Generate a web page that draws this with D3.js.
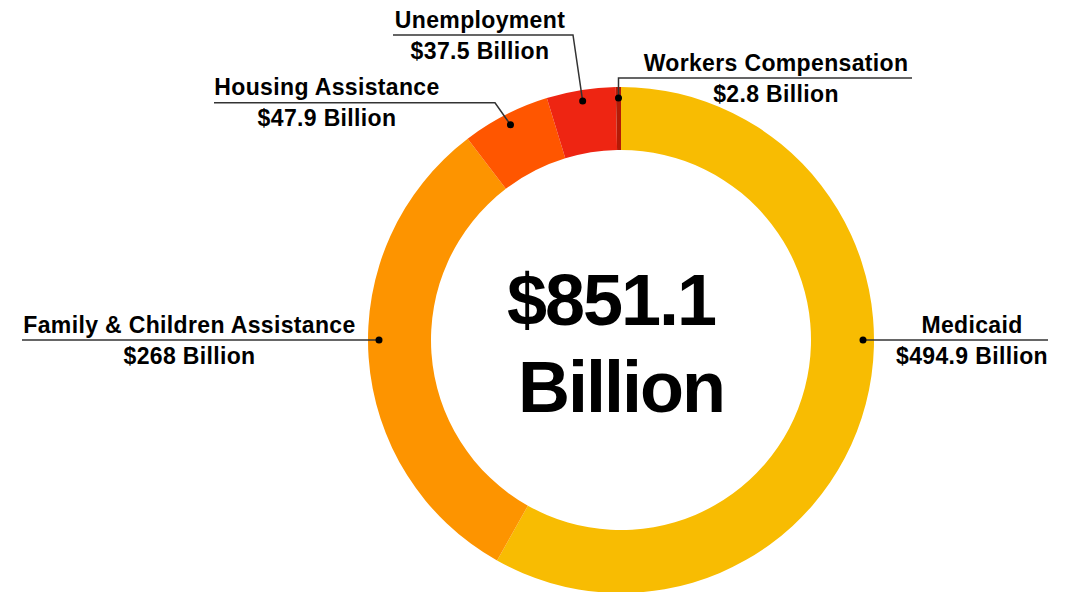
<!doctype html>
<html>
<head>
<meta charset="utf-8">
<title>Spending donut</title>
<script src="https://cdn.jsdelivr.net/npm/d3@7"></script>
<style>
  html, body { margin: 0; padding: 0; background: #fff; }
  svg { display: block; }
  .lbl { font-family: "Liberation Sans", Arial, Helvetica, sans-serif; font-weight: bold; font-size: 23px; letter-spacing: 0.35px; fill: #000; text-anchor: middle; }
  .total { font-family: "Liberation Sans", Arial, Helvetica, sans-serif; font-weight: bold; font-size: 72px; letter-spacing: -2px; fill: #000; text-anchor: middle; }
</style>
</head>
<body>
<svg id="chart" width="1073" height="592"></svg>
<script>
// data
var categories = ["Medicaid", "Family & Children Assistance", "Housing Assistance", "Unemployment", "Workers Compensation"];
var values = [494.9, 268, 47.9, 37.5, 2.8];
var valueLabels = ["$494.9 Billion", "$268 Billion", "$47.9 Billion", "$37.5 Billion", "$2.8 Billion"];
var totalLines = ["$851.1", "Billion"];
var colors = ["#f8bc02", "#fd9400", "#ff5600", "#ee2512", "#b51a06"];

// label placement (leader line y, bend x, outer end of line, text centre)
var labelLayout = [
  { lineY: null, bendX: null, endX: 1048, textX: 972 },
  { lineY: null, bendX: null, endX: 22,   textX: 189.5 },
  { lineY: 102.7, bendX: 495, endX: 214,  textX: 327 },
  { lineY: 35,   bendX: 573, endX: 393,  textX: 480 },
  { lineY: 78,   bendX: null, endX: 912, textX: 776 }
];

var svg = d3.select("#chart"),
    cx = 621, cy = 340,
    outerR = 253, innerR = 190, dotR = 242;

var pie = d3.pie().sort(null).value(function(d) { return d; });
var arcs = pie(values);

var arc = d3.arc().innerRadius(innerR).outerRadius(outerR);

var g = svg.append("g").attr("transform", "translate(" + cx + "," + cy + ")");

g.selectAll("path")
  .data(arcs)
  .enter().append("path")
    .attr("d", arc)
    .attr("fill", function(d, i) { return colors[i]; });

// where the dot goes: big slices snap to the horizontal, small ones use the middle
function dotAngle(d) {
  var sides = [Math.PI / 2, Math.PI * 3 / 2];
  for (var k = 0; k < sides.length; k++) {
    if (d.startAngle <= sides[k] && d.endAngle >= sides[k]) return sides[k];
  }
  return (d.startAngle + d.endAngle) / 2;
}

var labels = svg.append("g");

arcs.forEach(function(d, i) {
  var a = dotAngle(d),
      px = cx + dotR * Math.sin(a),
      py = cy - dotR * Math.cos(a),
      lay = labelLayout[i],
      ly = lay.lineY == null ? py : lay.lineY,
      bx = lay.bendX == null ? px : lay.bendX;

  var pts = [[px, py], [bx, ly], [lay.endX, ly]];

  labels.append("path")
    .attr("d", d3.line()(pts))
    .attr("fill", "none")
    .attr("stroke", "#333")
    .attr("stroke-width", 1.5);

  labels.append("circle")
    .attr("cx", px).attr("cy", py).attr("r", 3.5)
    .attr("fill", "#000");

  labels.append("text")
    .attr("class", "lbl")
    .attr("x", lay.textX).attr("y", ly - 7.5)
    .text(categories[i]);

  labels.append("text")
    .attr("class", "lbl")
    .attr("x", lay.textX).attr("y", ly + 23.5)
    .text(valueLabels[i]);
});

// total in the hole
svg.append("text").attr("class", "total")
  .attr("x", cx - 10).attr("y", 325)
  .text(totalLines[0]);
svg.append("text").attr("class", "total")
  .attr("x", cx).attr("y", 412)
  .text(totalLines[1]);
</script>
</body>
</html>
